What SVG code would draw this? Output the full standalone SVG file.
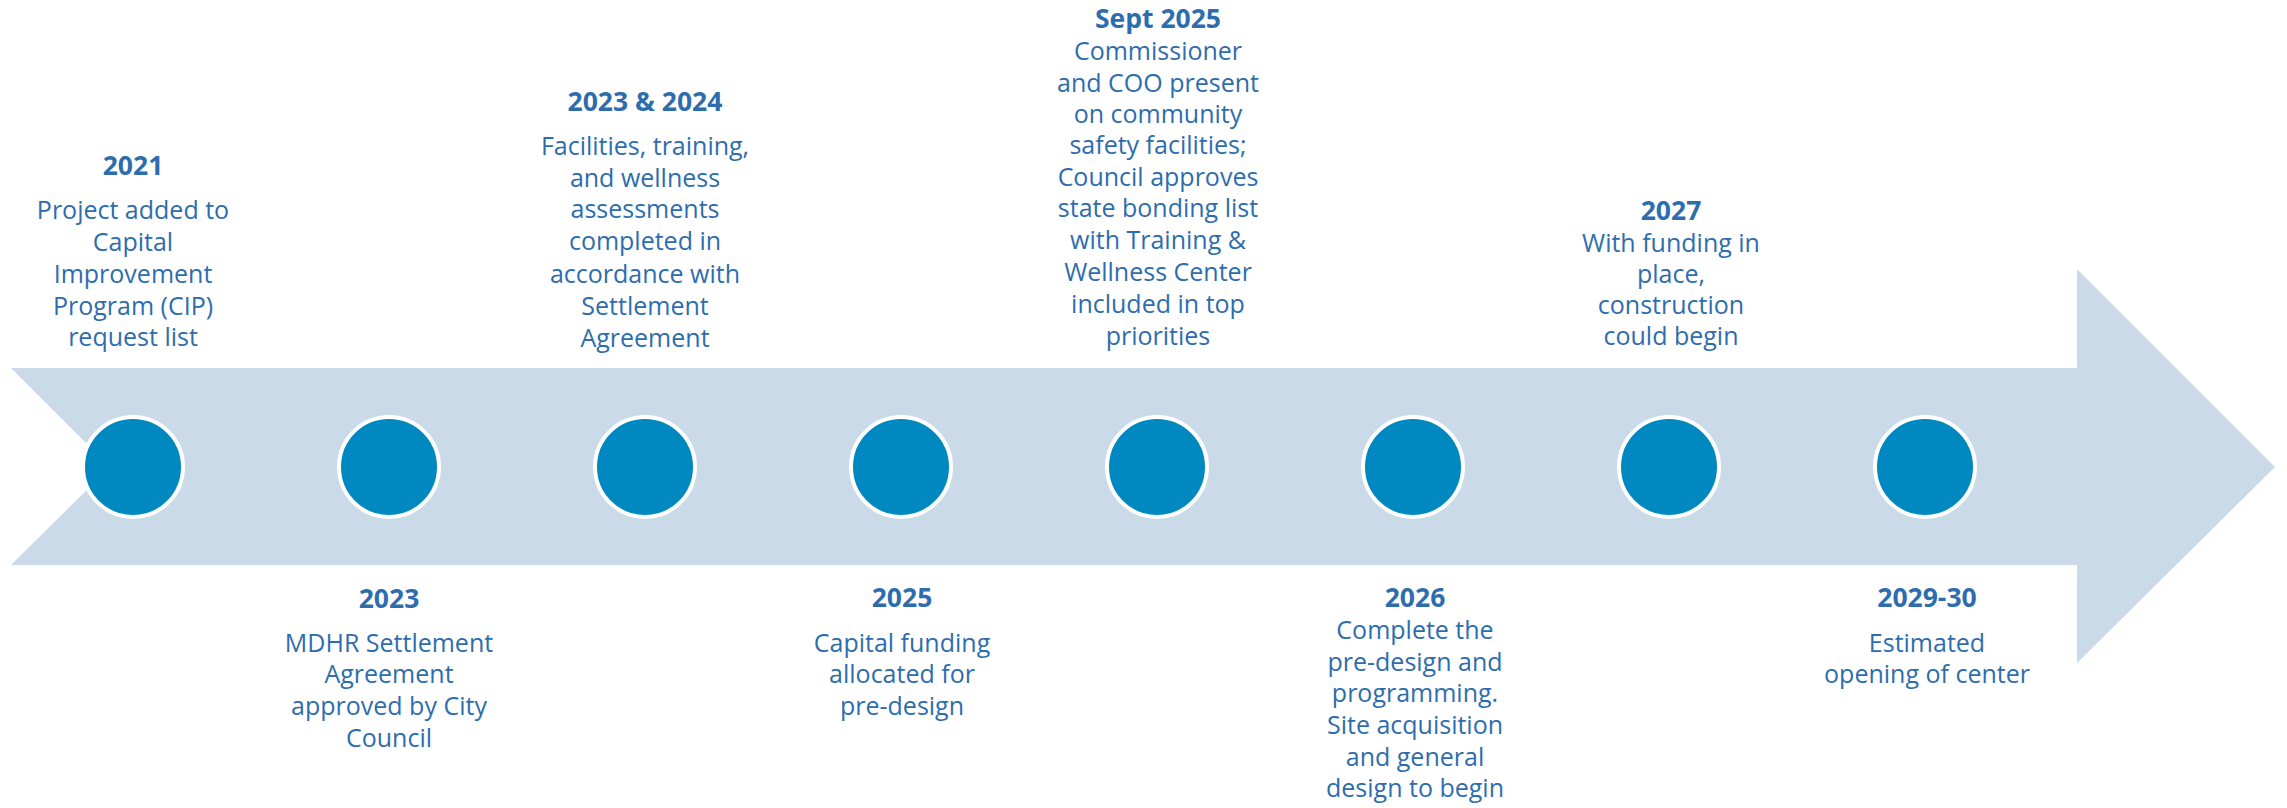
<svg xmlns="http://www.w3.org/2000/svg" width="2287" height="808" viewBox="0 0 2287 808">
<style>
.t{font-family:"Open Sans","Noto Sans","Liberation Sans",sans-serif;font-size:25px;fill:#2E6DAD;text-anchor:middle}
.b{font-weight:bold;font-size:26.5px}
.dot{fill:#0089C0;stroke:#FFFFFF;stroke-width:4}
</style>
<rect width="2287" height="808" fill="#FFFFFF"/>
<g id="arrow">
<polygon points="11,368 2077,368 2077,269 2275,467 2077,663 2077,565 11,565 110,467" fill="#CBDAE8"/>
</g>
<g id="connectors"></g>
<g id="n1">
<circle class="dot" cx="133" cy="467" r="50"/>
<text class="t b" x="133" y="175">2021</text>
<text class="t" x="133" y="219">Project added to</text>
<text class="t" x="133" y="251">Capital</text>
<text class="t" x="133" y="283">Improvement</text>
<text class="t" x="133" y="315">Program (CIP)</text>
<text class="t" x="133" y="346">request list</text>
</g>
<g id="n2">
<circle class="dot" cx="389" cy="467" r="50"/>
<text class="t b" x="389" y="608">2023</text>
<text class="t" x="389" y="652">MDHR Settlement</text>
<text class="t" x="389" y="683">Agreement</text>
<text class="t" x="389" y="715">approved by City</text>
<text class="t" x="389" y="747">Council</text>
</g>
<g id="n3">
<circle class="dot" cx="645" cy="467" r="50"/>
<text class="t b" x="645" y="111">2023 &amp; 2024</text>
<text class="t" x="645" y="155">Facilities, training,</text>
<text class="t" x="645" y="187">and wellness</text>
<text class="t" x="645" y="218">assessments</text>
<text class="t" x="645" y="250">completed in</text>
<text class="t" x="645" y="283">accordance with</text>
<text class="t" x="645" y="315">Settlement</text>
<text class="t" x="645" y="347">Agreement</text>
</g>
<g id="n4">
<circle class="dot" cx="901" cy="467" r="50"/>
<text class="t b" x="902" y="607">2025</text>
<text class="t" x="902" y="652">Capital funding</text>
<text class="t" x="902" y="683">allocated for</text>
<text class="t" x="902" y="715">pre-design</text>
</g>
<g id="n5">
<circle class="dot" cx="1157" cy="467" r="50"/>
<text class="t b" x="1158" y="28">Sept 2025</text>
<text class="t" x="1158" y="60">Commissioner</text>
<text class="t" x="1158" y="92">and COO present</text>
<text class="t" x="1158" y="123">on community</text>
<text class="t" x="1158" y="154">safety facilities;</text>
<text class="t" x="1158" y="186">Council approves</text>
<text class="t" x="1158" y="217">state bonding list</text>
<text class="t" x="1158" y="249">with Training &amp;</text>
<text class="t" x="1158" y="281">Wellness Center</text>
<text class="t" x="1158" y="313">included in top</text>
<text class="t" x="1158" y="345">priorities</text>
</g>
<g id="n6">
<circle class="dot" cx="1413" cy="467" r="50"/>
<text class="t b" x="1415" y="607">2026</text>
<text class="t" x="1415" y="639">Complete the</text>
<text class="t" x="1415" y="671">pre-design and</text>
<text class="t" x="1415" y="702">programming.</text>
<text class="t" x="1415" y="734">Site acquisition</text>
<text class="t" x="1415" y="766">and general</text>
<text class="t" x="1415" y="797">design to begin</text>
</g>
<g id="n7">
<circle class="dot" cx="1669" cy="467" r="50"/>
<text class="t b" x="1671" y="220">2027</text>
<text class="t" x="1671" y="252">With funding in</text>
<text class="t" x="1671" y="283">place,</text>
<text class="t" x="1671" y="314">construction</text>
<text class="t" x="1671" y="345">could begin</text>
</g>
<g id="n8">
<circle class="dot" cx="1925" cy="467" r="50"/>
<text class="t b" x="1927" y="607">2029-30</text>
<text class="t" x="1927" y="652">Estimated</text>
<text class="t" x="1927" y="683">opening of center</text>
</g>
</svg>
